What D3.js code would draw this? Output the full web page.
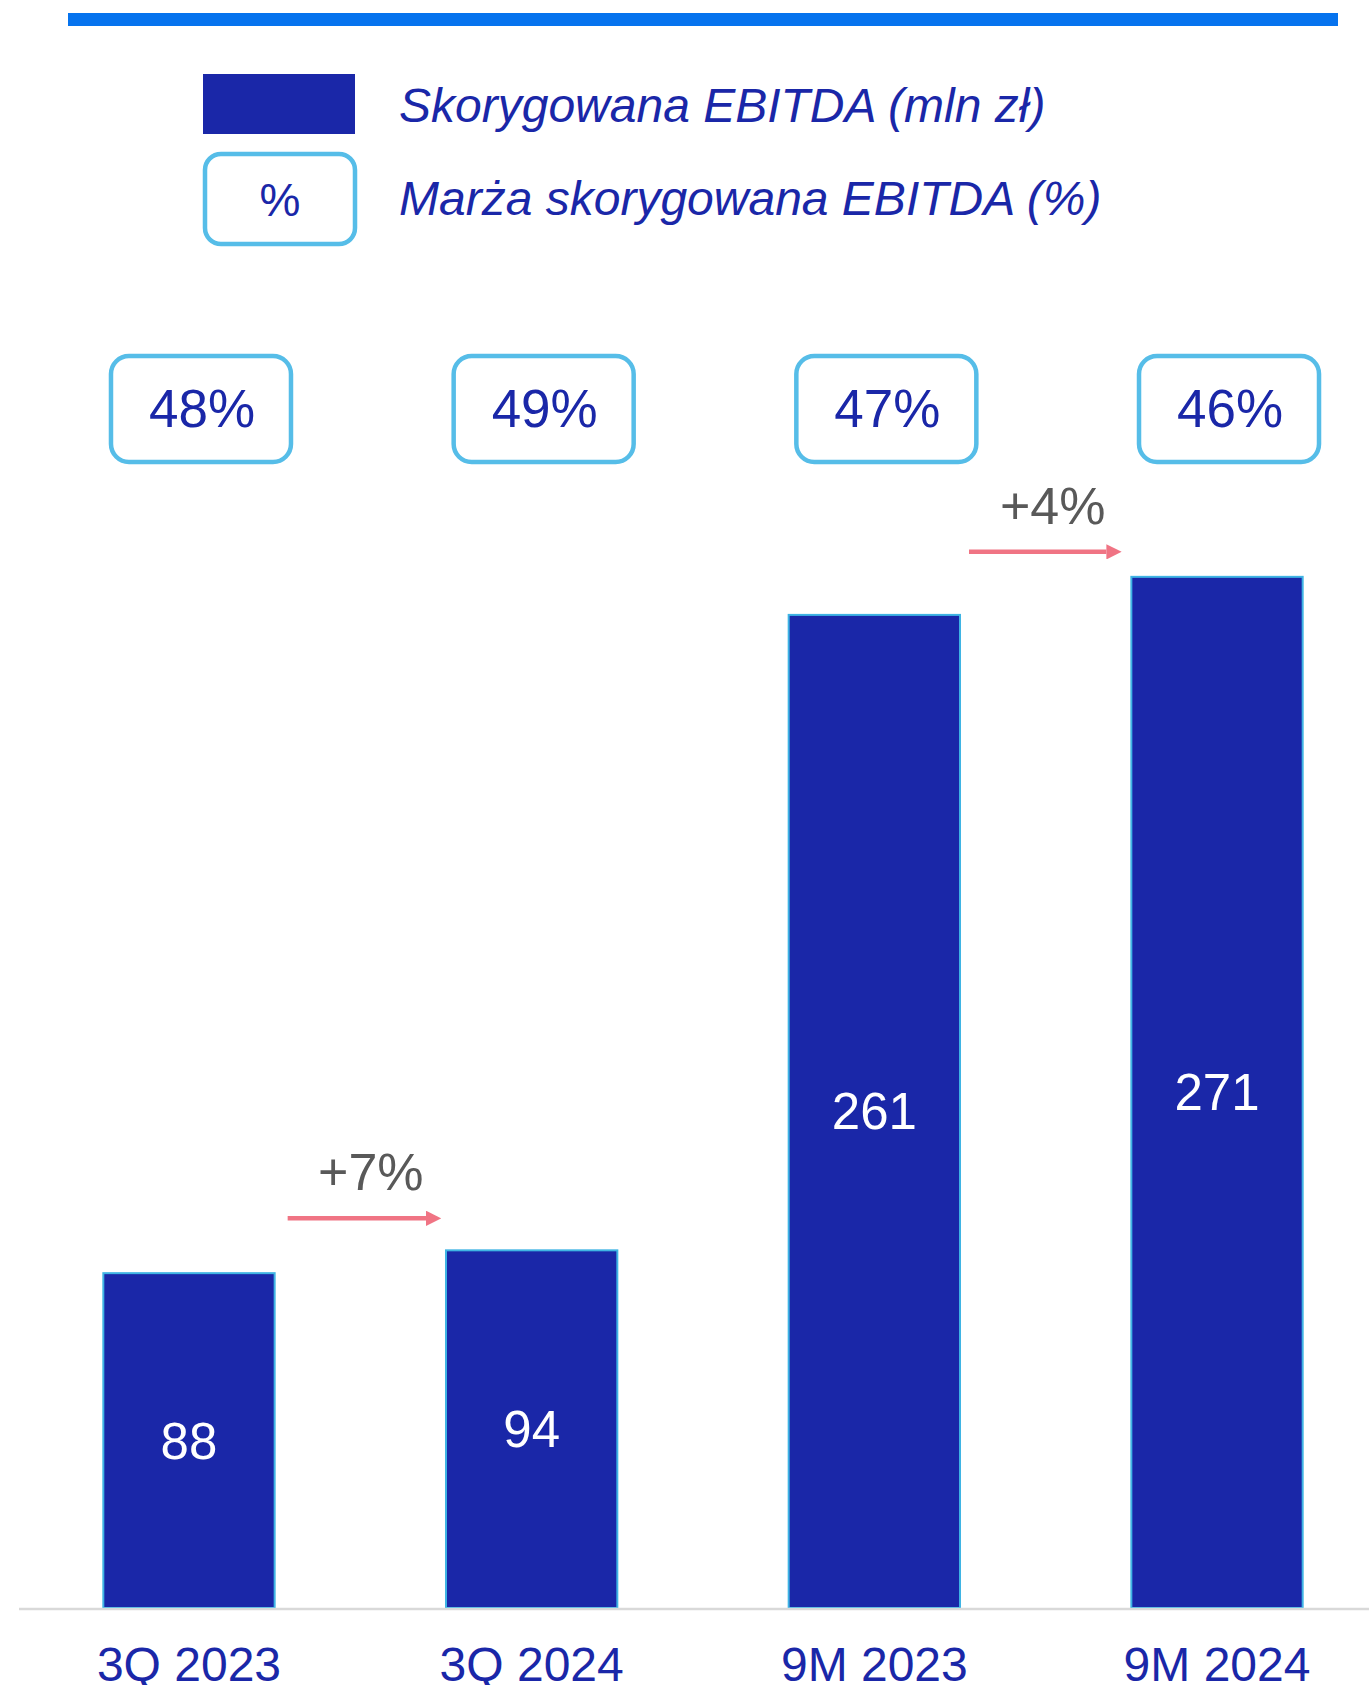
<!DOCTYPE html>
<html><head><meta charset="utf-8">
<script src="https://cdn.jsdelivr.net/npm/d3@7"></script>
<style>html,body{margin:0;padding:0;background:#fff;}svg{display:block;}</style>
</head><body>
<div id="chart"></div>
<script>
const categories = ["3Q 2023", "3Q 2024", "9M 2023", "9M 2024"];
const ebitda = [88, 94, 261, 271];
const margins = ["48%", "49%", "47%", "46%"];
const growthLabels = ["+7%", "+4%"];
const growthPairs = [[0, 1], [2, 3]];
const legendLabels = ["Skorygowana EBITDA (mln zł)", "Marża skorygowana EBITDA (%)"];

const W = 1369, H = 1685;
const DARK = "#1a27a8", LIGHT = "#56bde8", TOPBAR = "#0673ee", ARROW = "#f07484", GRAY = "#595959";
const FONT = "'Liberation Sans', Arial, sans-serif";

const svg = d3.select("#chart").append("svg").attr("width", W).attr("height", H);

// top bar
svg.append("rect").attr("x", 68).attr("y", 13).attr("width", 1270).attr("height", 13).attr("fill", TOPBAR);

// legend
svg.append("rect").attr("x", 203).attr("y", 74).attr("width", 152).attr("height", 60).attr("fill", DARK);
svg.append("rect").attr("x", 205).attr("y", 154).attr("width", 150).attr("height", 90).attr("rx", 16)
  .attr("fill", "#fff").attr("stroke", LIGHT).attr("stroke-width", 4.5);
svg.append("text").attr("x", 280).attr("y", 216).attr("text-anchor", "middle")
  .attr("font-family", FONT).attr("font-size", 46).attr("fill", DARK).text("%");
svg.selectAll("text.leg").data(legendLabels).enter().append("text").attr("class", "leg")
  .attr("x", 399).attr("y", (d, i) => i === 0 ? 122 : 215)
  .attr("font-family", FONT).attr("font-style", "italic").attr("font-size", 48).attr("fill", DARK).text(d => d);

// scales
const x = d3.scaleBand().domain(categories).range([17.65, 1388.35]).paddingInner(0.5).paddingOuter(0.25);
const y = d3.scaleLinear().domain([0, 300]).range([1608, 1608 - 300 * 3.805]);

// bars
svg.selectAll("rect.bar").data(ebitda).enter().append("rect").attr("class", "bar")
  .attr("x", (d, i) => x(categories[i])).attr("y", d => y(d))
  .attr("width", x.bandwidth()).attr("height", d => y(0) - y(d))
  .attr("fill", DARK).attr("stroke", "#3fb4e4").attr("stroke-width", 2);

// axis baseline
svg.append("line").attr("x1", 19).attr("x2", W).attr("y1", 1609).attr("y2", 1609)
  .attr("stroke", "#d9d9d9").attr("stroke-width", 2.5);

// value labels
svg.selectAll("text.val").data(ebitda).enter().append("text").attr("class", "val")
  .attr("x", (d, i) => x(categories[i]) + x.bandwidth() / 2)
  .attr("y", d => (y(d) + y(0)) / 2 + 18)
  .attr("text-anchor", "middle").attr("font-family", FONT).attr("font-size", 51).attr("fill", "#fff")
  .text(d => d);

// category labels
const xAxis = svg.append("g").attr("transform", `translate(0,${y(0)})`)
  .call(d3.axisBottom(x).tickSize(0).tickPadding(0));
xAxis.select(".domain").remove();
xAxis.selectAll("text").attr("dy", null).attr("y", 73).attr("font-family", FONT).attr("font-size", 48).attr("fill", DARK);

// margin boxes
const boxW = 184, boxH = 110, boxTop = 354;
const mg = svg.selectAll("g.mg").data(margins).enter().append("g").attr("class", "mg")
  .attr("transform", (d, i) => `translate(${x(categories[i]) + x.bandwidth() / 2 + 12},${boxTop})`);
mg.append("rect").attr("x", -boxW / 2 + 2).attr("y", 2).attr("width", boxW - 4).attr("height", boxH - 4)
  .attr("rx", 18).attr("fill", "#fff").attr("stroke", LIGHT).attr("stroke-width", 4.5);
mg.append("text").attr("x", 1).attr("y", 73).attr("text-anchor", "middle")
  .attr("font-family", FONT).attr("font-size", 53).attr("fill", DARK).text(d => d);

// growth arrows
svg.append("defs").append("marker").attr("id", "ah").attr("viewBox", "0 0 10 10")
  .attr("refX", 0).attr("refY", 5).attr("markerWidth", 3.4).attr("markerHeight", 3.4)
  .attr("markerUnits", "strokeWidth").attr("orient", "auto")
  .append("path").attr("d", "M0,0 L10,5 L0,10 Z").attr("fill", ARROW);

const arrowOffsets = [32, 25];
const arrowStartGap = [13, 9];
const arrowEndGap = [6, 11];
const labelShift = [7, 8];
growthPairs.forEach((p, k) => {
  const x1 = x(categories[p[0]]) + x.bandwidth() + arrowStartGap[k];
  const x2 = x(categories[p[1]]) - arrowEndGap[k] - 14;
  const yy = y(ebitda[p[1]]) - arrowOffsets[k];
  svg.append("line").attr("x1", x1).attr("x2", x2).attr("y1", yy).attr("y2", yy)
    .attr("stroke", ARROW).attr("stroke-width", 4.5).attr("marker-end", "url(#ah)");
  svg.append("text").attr("x", (x1 + x2 + 14) / 2 + labelShift[k]).attr("y", yy - 28).attr("text-anchor", "middle")
    .attr("font-family", FONT).attr("font-size", 52).attr("fill", GRAY).text(growthLabels[k]);
});
</script>
</body></html>
